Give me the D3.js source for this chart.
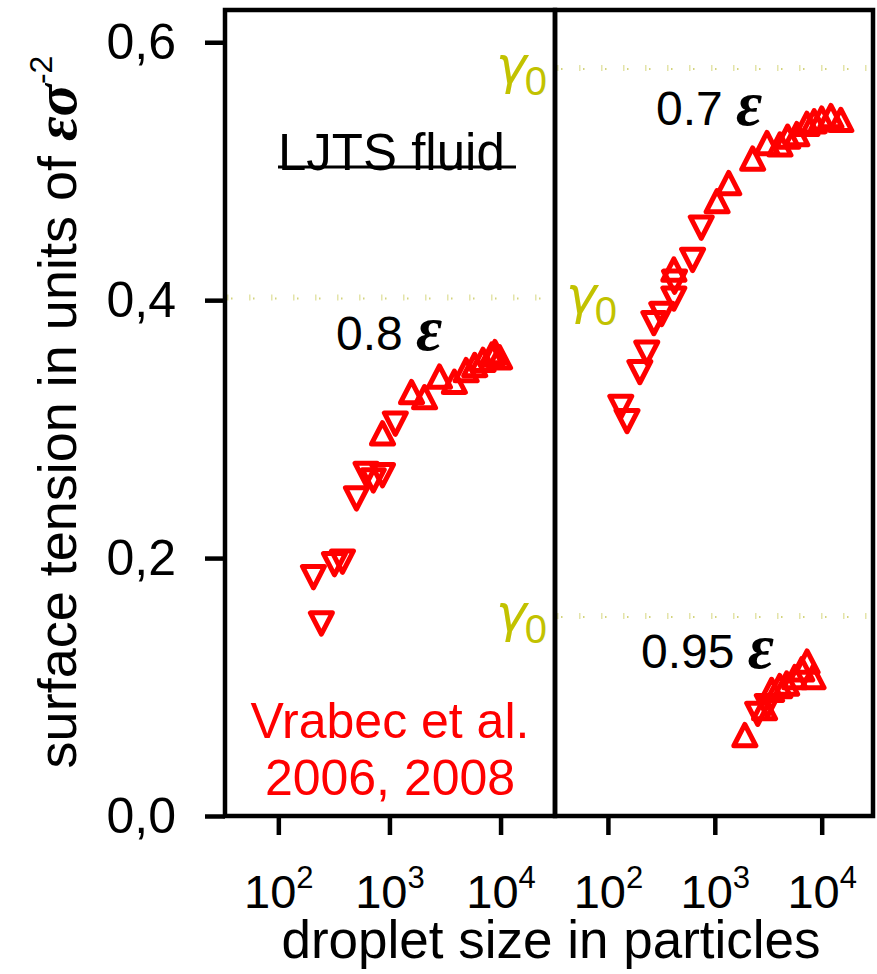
<!DOCTYPE html>
<meta charset="utf-8">
<style>
body { margin: 0; background: #fff; }
text { font-family: "Liberation Sans", Arial, Helvetica, sans-serif; }
.greek { font-family: "Liberation Serif", "Times New Roman", serif; font-style: italic; font-weight: bold; }
.gamma { font-family: "DejaVu Sans", sans-serif; font-style: oblique; fill: #c2c200; }
</style>
<svg width="877" height="974"></svg>
<script src="https://cdn.jsdelivr.net/npm/d3@7"></script>
<script>

// 0.8 epsilon (left panel)
var t08DownN = [207, 244, 320, 378, 505, 616, 716, 866, 1130];
var t08DownG = [0.188, 0.152, 0.198, 0.200, 0.249, 0.268, 0.263, 0.267, 0.307];
var t08UpN = [866, 1580, 2070, 2820, 3840, 4900, 5850, 6950, 8330, 8900, 9800];
var t08UpG = [0.294, 0.326, 0.322, 0.338, 0.334, 0.343, 0.347, 0.351, 0.355, 0.357, 0.353];

// 0.7 epsilon (right panel, top)
var t07DownN = [132, 151, 199, 231, 269, 319, 414, 420, 620, 747];
var t07DownG = [0.320, 0.309, 0.347, 0.362, 0.385, 0.392, 0.404, 0.417, 0.434, 0.459];
var t07UpN = [414, 1050, 1350, 2260, 3080, 4070, 4800, 5850, 7270, 8500, 10000, 12200, 15100];
var t07UpG = [0.421, 0.474, 0.488, 0.507, 0.519, 0.518, 0.524, 0.526, 0.534, 0.536, 0.538, 0.540, 0.537];

// 0.95 epsilon (right panel, bottom)
var t095DownN = [2520, 3100];
var t095DownG = [0.082, 0.088];
var t095UpN = [1910, 2920, 3400, 4050, 4700, 5600, 6500, 7300, 8300];
var t095UpG = [0.060, 0.081, 0.095, 0.098, 0.100, 0.105, 0.111, 0.117, 0.105];

// planar interface tension gamma_0
var gamma0Left = [0.402];
var gamma0Right = [0.580, 0.155];

var yTicks = [0, 0.2, 0.4, 0.6];
var xTicks = [100, 1000, 10000];

var svg = d3.select("svg");

var yTop = 10, yBottom = 816;
var y = d3.scaleLinear().domain([0, 0.625]).range([yBottom, yTop]);
var xL = d3.scaleLog().domain([Math.pow(10, 1.52), Math.pow(10, 4.49)]).range([225, 555]);
var xR = d3.scaleLog().domain([Math.pow(10, 1.505), Math.pow(10, 4.48)]).range([555, 873]);

// gamma_0 dotted lines
function gammaLine(x, vals) {
  svg.selectAll(null).data(vals).enter().append("line")
      .attr("x1", x.range()[0] + 2).attr("x2", x.range()[1] - 4)
      .attr("y1", function(d) { return y(d); }).attr("y2", function(d) { return y(d); })
      .attr("stroke", "#e4e4aa").attr("stroke-width", 6)
      .attr("stroke-dasharray", "1.5 20.5");
  svg.selectAll(null).data(vals).enter().append("line")
      .attr("x1", x.range()[0] + 6).attr("x2", x.range()[1] - 4)
      .attr("y1", function(d) { return y(d) + 1; }).attr("y2", function(d) { return y(d) + 1; })
      .attr("stroke", "#d4d47c").attr("stroke-width", 2)
      .attr("stroke-dasharray", "1.5 20.5");
}
gammaLine(xL, gamma0Left);
gammaLine(xR, gamma0Right);

// frames
[xL, xR].forEach(function(x) {
  svg.append("rect")
      .attr("x", x.range()[0]).attr("y", yTop)
      .attr("width", x.range()[1] - x.range()[0]).attr("height", yBottom - yTop)
      .attr("fill", "none").attr("stroke", "#000").attr("stroke-width", 4.5);
});

// markers
var tri = d3.symbol(d3.symbolTriangle, 210);
function markers(x, ns, gs, down) {
  svg.append("g").selectAll("path")
    .data(d3.zip(ns, gs))
    .enter().append("path")
      .attr("d", tri)
      .attr("transform", function(d) {
        return "translate(" + x(d[0]) + "," + y(d[1]) + ")" + (down ? " rotate(180)" : "") + " scale(1,1.12)";
      })
      .attr("vector-effect", "non-scaling-stroke")
      .attr("fill", "none").attr("stroke", "#ff0000").attr("stroke-width", 5)
      .attr("stroke-linejoin", "round");
}
markers(xL, t08DownN, t08DownG, true);
markers(xL, t08UpN, t08UpG, false);
markers(xR, t07DownN, t07DownG, true);
markers(xR, t07UpN, t07UpG, false);
markers(xR, t095DownN, t095DownG, true);
markers(xR, t095UpN, t095UpG, false);

// y axis
var yAxis = svg.append("g")
    .attr("transform", "translate(225,0)")
    .call(d3.axisLeft(y).tickValues(yTicks).tickSize(20).tickPadding(29)
      .tickFormat(function(d) { return d3.format(".1f")(d).replace(".", ","); }));
yAxis.select(".domain").remove();
yAxis.selectAll(".tick line").attr("stroke-width", 4.5);
yAxis.selectAll(".tick text").attr("font-size", 50).attr("font-family", null).attr("fill", "#000");

// x axes
[xL, xR].forEach(function(x) {
  var ax = svg.append("g")
      .attr("transform", "translate(0," + (yBottom + 2) + ")")
      .call(d3.axisBottom(x).tickValues(xTicks).tickSize(17));
  ax.select(".domain").remove();
  ax.selectAll(".tick line").attr("stroke-width", 4.5);
  ax.selectAll(".tick text").each(function(d) {
    var t = d3.select(this).text(null)
        .attr("y", 90).attr("dy", null).attr("font-size", 47)
        .attr("font-family", null).attr("fill", "#000");
    t.append("tspan").text("10");
    t.append("tspan").attr("dy", -20).attr("font-size", 31).text(Math.round(Math.log10(d)));
  });
});

// axis titles
svg.append("text")
    .attr("x", (225 + 873) / 2 + 2).attr("y", 958)
    .attr("text-anchor", "middle").attr("font-size", 53)
    .text("droplet size in particles");

var yt = svg.append("text")
    .attr("transform", "translate(76,412) rotate(-90)")
    .attr("text-anchor", "middle").attr("font-size", 54);
yt.append("tspan").text("surface tension in units of ");
yt.append("tspan").attr("class", "greek").attr("font-size", 60).text("εσ");
yt.append("tspan").attr("dy", -24).attr("font-size", 32).text("-2");

// panel annotations
svg.append("text").attr("x", 278).attr("y", 170).attr("font-size", 51).text("LJTS fluid");
svg.append("line").attr("x1", 278).attr("x2", 516).attr("y1", 167).attr("y2", 167)
    .attr("stroke", "#000").attr("stroke-width", 3);

function tempLabel(x0, y0, s) {
  var t = svg.append("text").attr("x", x0).attr("y", y0).attr("font-size", 48);
  t.append("tspan").text(s + " ");
  t.append("tspan").attr("class", "greek").attr("font-size", 64).text("ε");
}
tempLabel(336, 350, "0.8");
tempLabel(656, 125, "0.7");
tempLabel(641, 668, "0.95");

function gammaLabel(x0, yv) {
  var t = svg.append("text").attr("class", "gamma").attr("x", x0).attr("y", y(yv) + 15).attr("font-size", 52);
  t.append("tspan").text("γ");
  t.append("tspan").attr("dx", -2).attr("dy", 12).attr("font-size", 40)
      .attr("font-family", "Liberation Sans, Arial, sans-serif").attr("font-style", "normal").text("0");
}
gammaLabel(496, gamma0Right[0]);
gammaLabel(566, gamma0Left[0]);
gammaLabel(496, gamma0Right[1]);

svg.append("text").attr("x", 390).attr("y", 738).attr("text-anchor", "middle")
    .attr("font-size", 50).attr("fill", "#ff0000").text("Vrabec et al.");
svg.append("text").attr("x", 390).attr("y", 795).attr("text-anchor", "middle")
    .attr("font-size", 50).attr("fill", "#ff0000").text("2006, 2008");

</script>
